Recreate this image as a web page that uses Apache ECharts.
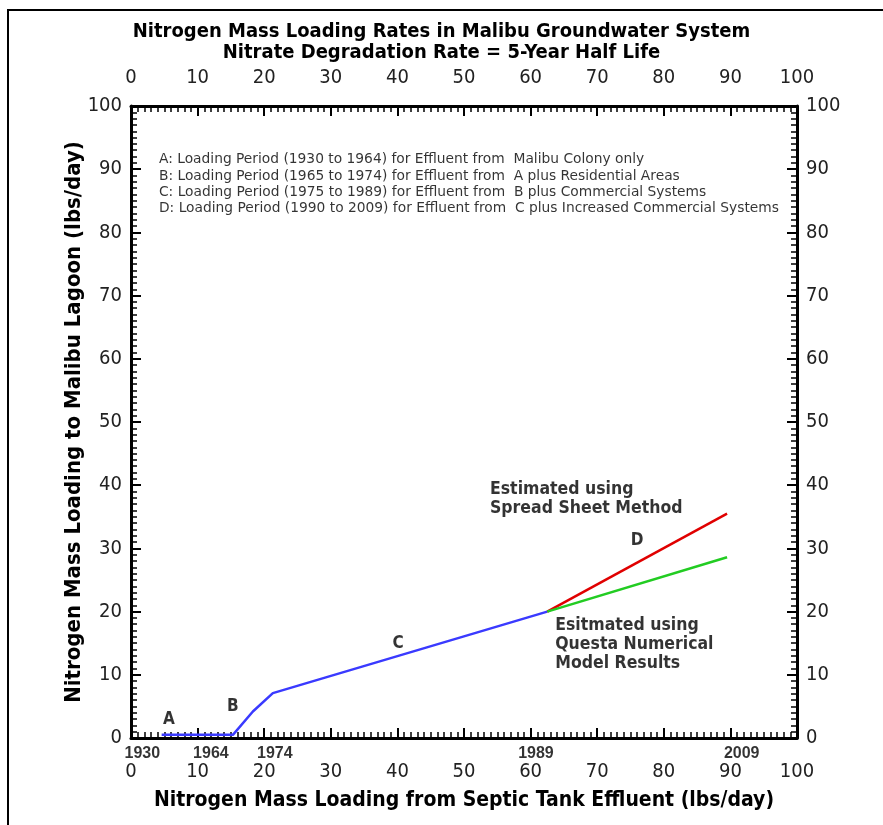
<!DOCTYPE html>
<html>
<head>
<meta charset="utf-8">
<script src="https://cdn.jsdelivr.net/npm/echarts@6/dist/echarts.min.js"></script>
<style>
  html, body { margin: 0; padding: 0; background: #fff; }
  #chart { width: 883px; height: 825px; }
</style>
</head>
<body>
<div id="chart"></div>
<script>
// loading curve, x = septic effluent (lbs/day), y = lagoon loading (lbs/day)
var blueX = [4.6, 15.3, 18.3, 21.3, 62.5];
var blueY = [0.5, 0.5, 4.2, 7.1, 20.0];
var redX = [62.5, 89.5];
var redY = [20.0, 35.5];
var greenX = [62.5, 89.5];
var greenY = [20.0, 28.6];

// period letters
var letterNames = ['A', 'B', 'C', 'D'];
var letterX = [5.7, 15.3, 40.1, 76.0];
var letterY = [2.9, 5.0, 15.0, 31.3];

// year marks under the x axis
var yearNames = ['1930', '1964', '1974', '1989', '2009'];
var yearX = [1.7, 12.0, 21.6, 60.8, 91.7];
var yearY = -2.4;

var legendLines = [
  'A: Loading Period (1930 to 1964) for Effluent from  Malibu Colony only',
  'B: Loading Period (1965 to 1974) for Effluent from  A plus Residential Areas',
  'C: Loading Period (1975 to 1989) for Effluent from  B plus Commercial Systems',
  'D: Loading Period (1990 to 2009) for Effluent from  C plus Increased Commercial Systems'
];
var noteSpread = 'Estimated using\nSpread Sheet Method';
var noteQuesta = 'Esitmated using\nQuesta Numerical\nModel Results';

var narrow = '"Liberation Sans Narrow", "Arial Narrow", "DejaVu Sans Condensed", "Liberation Sans", sans-serif';

function pairs(xs, ys) {
  var out = [];
  for (var i = 0; i < xs.length; ++i) {
    out.push([xs[i], ys[i]]);
  }
  return out;
}

var letterData = [];
for (var i = 0; i < letterNames.length; ++i) {
  letterData.push({name: letterNames[i], value: [letterX[i], letterY[i]]});
}
var yearData = [];
for (var i = 0; i < yearNames.length; ++i) {
  yearData.push({name: yearNames[i], value: [yearX[i], yearY]});
}

function valueAxis(pos, margin, extra) {
  var ax = {
    type: 'value',
    position: pos,
    min: 0,
    max: 100,
    interval: 10,
    axisLine: {show: true, onZero: false, lineStyle: {color: '#000', width: 3}},
    axisTick: {show: true, inside: true, length: 10, lineStyle: {color: '#000', width: 2}},
    minorTick: {show: true, splitNumber: 10, length: 6, lineStyle: {color: '#000', width: 1.5}},
    splitLine: {show: false},
    minorSplitLine: {show: false},
    axisLabel: {color: '#222', fontSize: 20, fontFamily: narrow, margin: margin}
  };
  for (var k in extra) ax[k] = extra[k];
  return ax;
}

var myChart = echarts.init(document.getElementById('chart'));
var option = {
  backgroundColor: '#fff',
  animation: false,
  title: {
    text: 'Nitrogen Mass Loading Rates in Malibu Groundwater System\nNitrate Degradation Rate = 5-Year Half Life',
    left: 'center',
    top: 16,
    textStyle: {fontSize: 20, fontWeight: 'bold', color: '#000', fontFamily: narrow, lineHeight: 21}
  },
  grid: {left: 131, right: 86, top: 106, bottom: 87},
  graphic: [{
    type: 'polyline',
    shape: {points: [[8, 830], [8, 10], [883, 10]]},
    style: {stroke: '#000', lineWidth: 2, fill: null}
  }],
  xAxis: [
    valueAxis('bottom', 24, {
      name: 'Nitrogen Mass Loading from Septic Tank Effluent (lbs/day)',
      nameLocation: 'middle',
      nameGap: 52,
      nameMoveOverlap: false,
      nameTextStyle: {fontSize: 21, fontWeight: 'bold', color: '#000', fontFamily: narrow}
    }),
    valueAxis('top', 18, {})
  ],
  yAxis: [
    valueAxis('left', 9, {
      name: 'Nitrogen Mass Loading to Malibu Lagoon (lbs/day)',
      nameLocation: 'middle',
      nameGap: 46,
      nameMoveOverlap: false,
      nameTextStyle: {fontSize: 22, fontWeight: 'bold', color: '#000', fontFamily: narrow}
    }),
    valueAxis('right', 9, {})
  ],
  series: [
    {
      type: 'line', data: pairs(blueX, blueY), symbol: 'none',
      lineStyle: {color: '#3a3aff', width: 2.5}
    },
    {
      type: 'line', data: pairs(redX, redY), symbol: 'none',
      lineStyle: {color: '#e00000', width: 2.5}
    },
    {
      type: 'line', data: pairs(greenX, greenY), symbol: 'none',
      lineStyle: {color: '#22cc22', width: 2.5}
    },
    {
      type: 'scatter', data: letterData, symbolSize: 0, silent: true,
      label: {show: true, formatter: '{b}', color: '#000', fontSize: 17, fontWeight: 'bold', fontFamily: narrow}
    },
    {
      type: 'scatter', data: yearData, symbolSize: 0, silent: true, clip: false,
      label: {show: true, formatter: '{b}', color: '#000', fontSize: 16, fontWeight: 'bold', fontFamily: '"Liberation Sans", sans-serif'}
    },
    {
      type: 'scatter', symbolSize: 0, silent: true,
      data: [
        {name: noteSpread, value: [53.9, 40.8]},
        {name: noteQuesta, value: [63.7, 19.3]}
      ],
      label: {
        show: true, formatter: '{b}', position: 'right', distance: 0, align: 'left', verticalAlign: 'top',
        color: '#000', fontSize: 17.5, fontWeight: 'bold', lineHeight: 19, fontFamily: narrow
      }
    },
    {
      type: 'scatter', symbolSize: 0, silent: true,
      data: [{name: legendLines.join('\n'), value: [4.2, 92.8]}],
      label: {
        show: true, formatter: '{b}', position: 'right', distance: 0, align: 'left', verticalAlign: 'top',
        color: '#000', fontSize: 13.8, lineHeight: 16.3, fontFamily: '"DejaVu Sans", sans-serif'
      }
    }
  ]
};
myChart.setOption(option);
</script>
</body>
</html>
